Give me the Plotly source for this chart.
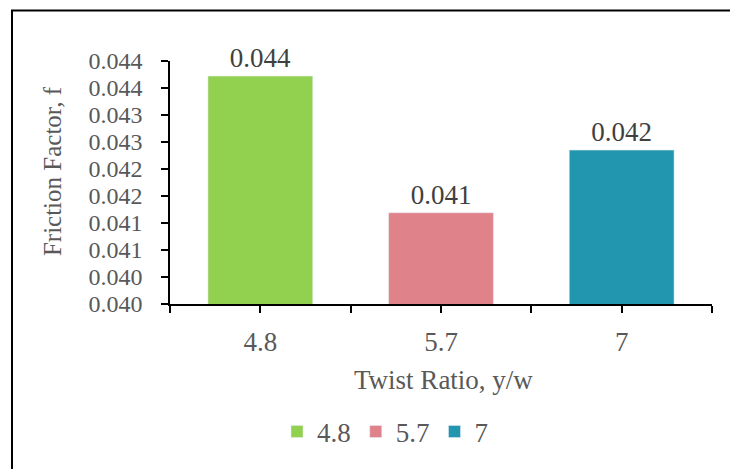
import plotly.graph_objects as go

categories = ["4.8", "5.7", "7"]
friction = [0.04372, 0.04119, 0.04235]
colors = ["#92D050", "#E0828A", "#2396AF"]
ytick_vals = [0.0395, 0.0400, 0.0405, 0.0410, 0.0415, 0.0420, 0.0425, 0.0430, 0.0435, 0.0440]
ytick_text = ["0.040", "0.040", "0.041", "0.041", "0.042", "0.042", "0.043", "0.043", "0.044", "0.044"]

FONT = "Times New Roman, Liberation Serif, DejaVu Serif, serif"
GREY = "#595959"
FS = 27

fig = go.Figure()
for i, (cat, val, col) in enumerate(zip(categories, friction, colors)):
    fig.add_trace(go.Bar(
        x=[i], y=[val], name=cat, marker_color=col, width=0.58,
        text=[f"{val:.3f}"], textposition="outside", cliponaxis=False,
        textfont=dict(family=FONT, size=FS, color="#404040"),
        hoverinfo="skip",
    ))

n = len(categories)
xt_vals = [k * 0.5 - 0.5 for k in range(2 * n + 1)]
xt_text = [categories[(k - 1) // 2] if k % 2 == 1 else "" for k in range(2 * n + 1)]

OFF = 8  # page body margin
W, H = 738 - OFF, 469 - OFF
L, R, T, B = 170, 712, 61, 306  # plot area in screen pixels
ml, mt = L - OFF, T - OFF
mr, mb = W - (R - OFF), H - (B - OFF)
pw, ph = R - L, B - T

def px(x):
    return (x - L) / pw

def py(y):
    return (B - y) / ph

fig.update_layout(
    width=W, height=H,
    margin=dict(l=ml, r=mr, t=mt, b=mb, pad=0),
    plot_bgcolor="white", paper_bgcolor="white",
    barmode="overlay",
    font=dict(family=FONT, size=FS, color=GREY),
    showlegend=True,
    legend=dict(orientation="h", x=px(385), xanchor="center",
                y=py(435), yanchor="middle",
                font=dict(family=FONT, size=FS, color=GREY),
                itemwidth=30, tracegroupgap=0),
    xaxis=dict(range=[-0.5, n - 0.5], tickmode="array", tickvals=xt_vals, ticktext=xt_text,
               showline=True, linecolor="black", linewidth=1.5,
               ticks="outside", ticklen=7, tickcolor="black", tickwidth=1.5,
               showgrid=False, zeroline=False, ticklabelstandoff=6,
               tickfont=dict(family=FONT, size=FS, color=GREY)),
    yaxis=dict(range=[ytick_vals[0], ytick_vals[-1]], tickmode="array",
               tickvals=ytick_vals, ticktext=ytick_text,
               showline=True, linecolor="black", linewidth=1.5,
               ticks="outside", ticklen=7, tickcolor="black", tickwidth=1.5,
               showgrid=False, zeroline=False, ticklabelstandoff=14,
               tickfont=dict(family=FONT, size=24, color=GREY)),
    annotations=[
        dict(text="Friction Factor, f", xref="paper", yref="paper", x=px(52), y=py(172),
             xanchor="center", yanchor="middle", textangle=-90, showarrow=False,
             font=dict(family=FONT, size=25, color=GREY)),
        dict(text="Twist Ratio, y/w", xref="paper", yref="paper", x=px(443), y=py(383),
             xanchor="center", yanchor="middle", showarrow=False,
             font=dict(family=FONT, size=FS, color=GREY)),
    ],
)

# outer chart border
fig.add_shape(type="rect", xref="paper", yref="paper",
              x0=px(12), x1=px(760), y0=py(490), y1=py(10),
              line=dict(color="black", width=2), fillcolor="rgba(0,0,0,0)", layer="below")

fig.write_html("out.html")
